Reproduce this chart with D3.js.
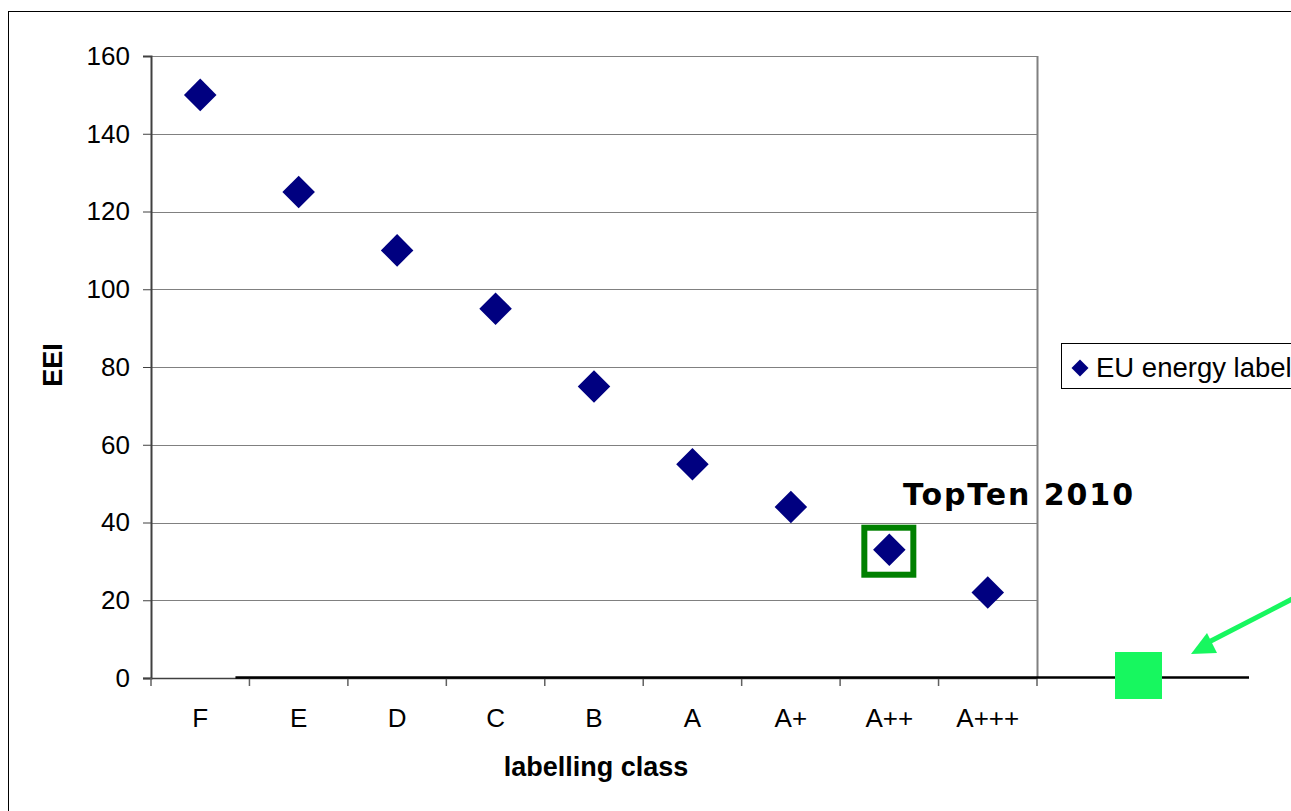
<!DOCTYPE html>
<html><head><meta charset="utf-8">
<script src="https://cdn.jsdelivr.net/npm/d3@7"></script>
<style>body{margin:0;background:#fff;}svg{display:block;}</style>
</head><body>
<svg id="c" width="1291" height="811"></svg>
<script>
const categories = ["F","E","D","C","B","A","A+","A++","A+++"];
const eeiValues = [150,125,110,95,75,55,44,33,22];
const yTicks = [0,20,40,60,80,100,120,140,160];
const seriesName = "EU energy label";
const highlightCategory = "A++";
const annotationText = "TopTen 2010";

const FONT = "Arial, 'Liberation Sans', sans-serif";
const svg = d3.select("#c");
const m = {l:151, t:56, r:1037, b:678};
const x = d3.scaleBand().domain(categories).range([m.l, m.r]).padding(0);
const y = d3.scaleLinear().domain([0,160]).range([m.b, m.t]);

// outer border
svg.append("rect").attr("x",8.5).attr("y",11.5).attr("width",1400).attr("height",900)
  .attr("fill","none").attr("stroke","#000").attr("stroke-width",1);

// gridlines
svg.append("g").selectAll("line").data(yTicks.filter(d=>d>0)).join("line")
  .attr("x1",m.l).attr("x2",m.r).attr("y1",d=>Math.round(y(d))+0.5).attr("y2",d=>Math.round(y(d))+0.5)
  .attr("stroke","#808080").attr("stroke-width",1);
// right border of plot
svg.append("line").attr("x1",m.r+0.5).attr("x2",m.r+0.5).attr("y1",m.t).attr("y2",m.b)
  .attr("stroke","#808080").attr("stroke-width",2);

// y axis
const yAxis = d3.axisLeft(y).tickValues(yTicks).tickSize(8).tickPadding(13);
const gy = svg.append("g").attr("transform",`translate(${m.l},0)`).call(yAxis);
gy.attr("font-size",null).attr("font-family",null);
gy.select(".domain").attr("stroke","#404040").attr("stroke-width",2);
gy.selectAll(".tick line").attr("stroke","#404040");
gy.selectAll(".tick text").attr("font-family",FONT).attr("font-size",26).attr("fill","#000");

// x axis
const gx = svg.append("g").attr("transform",`translate(0,${m.b})`);
gx.append("line").attr("x1",m.l-8).attr("x2",m.r).attr("y1",0.5).attr("y2",0.5).attr("stroke","#404040").attr("stroke-width",1.5);
const bounds = categories.map(c=>x(c)).concat([m.r]);
gx.selectAll("line.tk").data(bounds).join("line").attr("class","tk")
  .attr("x1",d=>d).attr("x2",d=>d).attr("y1",0).attr("y2",8).attr("stroke","#606060").attr("stroke-width",1.5);
gx.selectAll("text").data(categories).join("text")
  .attr("x",d=>x(d)+x.bandwidth()/2).attr("y",49).attr("text-anchor","middle")
  .attr("font-family",FONT).attr("font-size",26).text(d=>d);

// thick black overlay line
svg.append("line").attr("x1",x("E")-14).attr("x2",1249).attr("y1",y(0)-0.5).attr("y2",y(0)-0.5)
  .attr("stroke","#000").attr("stroke-width",2.5);

// axis titles
svg.append("text").attr("transform",`translate(62,${365}) rotate(-90)`).attr("text-anchor","middle")
  .attr("font-family",FONT).attr("font-weight","bold").attr("font-size",27).text("EEI");
svg.append("text").attr("x",596).attr("y",776).attr("text-anchor","middle")
  .attr("font-family",FONT).attr("font-weight","bold").attr("font-size",27).text("labelling class");

// highlight box
const hx = x(highlightCategory)+x.bandwidth()/2, hy = y(eeiValues[categories.indexOf(highlightCategory)]);
svg.append("rect").attr("x",hx-25).attr("y",hy-22).attr("width",49).attr("height",47)
  .attr("fill","none").attr("stroke","#008000").attr("stroke-width",6);

// diamonds
const diamond = d3.symbol().type(d3.symbolSquare).size(23*23);
svg.append("g").selectAll("path").data(eeiValues).join("path")
  .attr("d",diamond).attr("transform",(d,i)=>`translate(${x(categories[i])+x.bandwidth()/2},${y(d)}) rotate(45)`)
  .attr("fill","#000080");

// annotation text
svg.append("text").attr("x",903).attr("y",505).attr("font-family","Verdana, 'DejaVu Sans', sans-serif")
  .attr("font-weight","bold").attr("font-size",30).attr("textLength",230).text(annotationText);

// legend
svg.append("rect").attr("x",1061.5).attr("y",343.5).attr("width",300).attr("height",45)
  .attr("fill","#fff").attr("stroke","#000").attr("stroke-width",1);
svg.append("path").attr("d",d3.symbol().type(d3.symbolSquare).size(12*12))
  .attr("transform","translate(1080,368) rotate(45)").attr("fill","#000080");
svg.append("text").attr("x",1096).attr("y",377).attr("font-family",FONT)
  .attr("font-size",27.5).text(seriesName);

// green square
svg.append("rect").attr("x",1115).attr("y",652).attr("width",47).attr("height",47).attr("fill","#17F75F");
// green arrow
svg.append("line").attr("x1",1300).attr("y1",595).attr("x2",1205).attr("y2",644)
  .attr("stroke","#17F75F").attr("stroke-width",5);
svg.append("path").attr("d","M1191,654 L1207,633 L1217,653 Z").attr("fill","#17F75F");
</script>
</body></html>
